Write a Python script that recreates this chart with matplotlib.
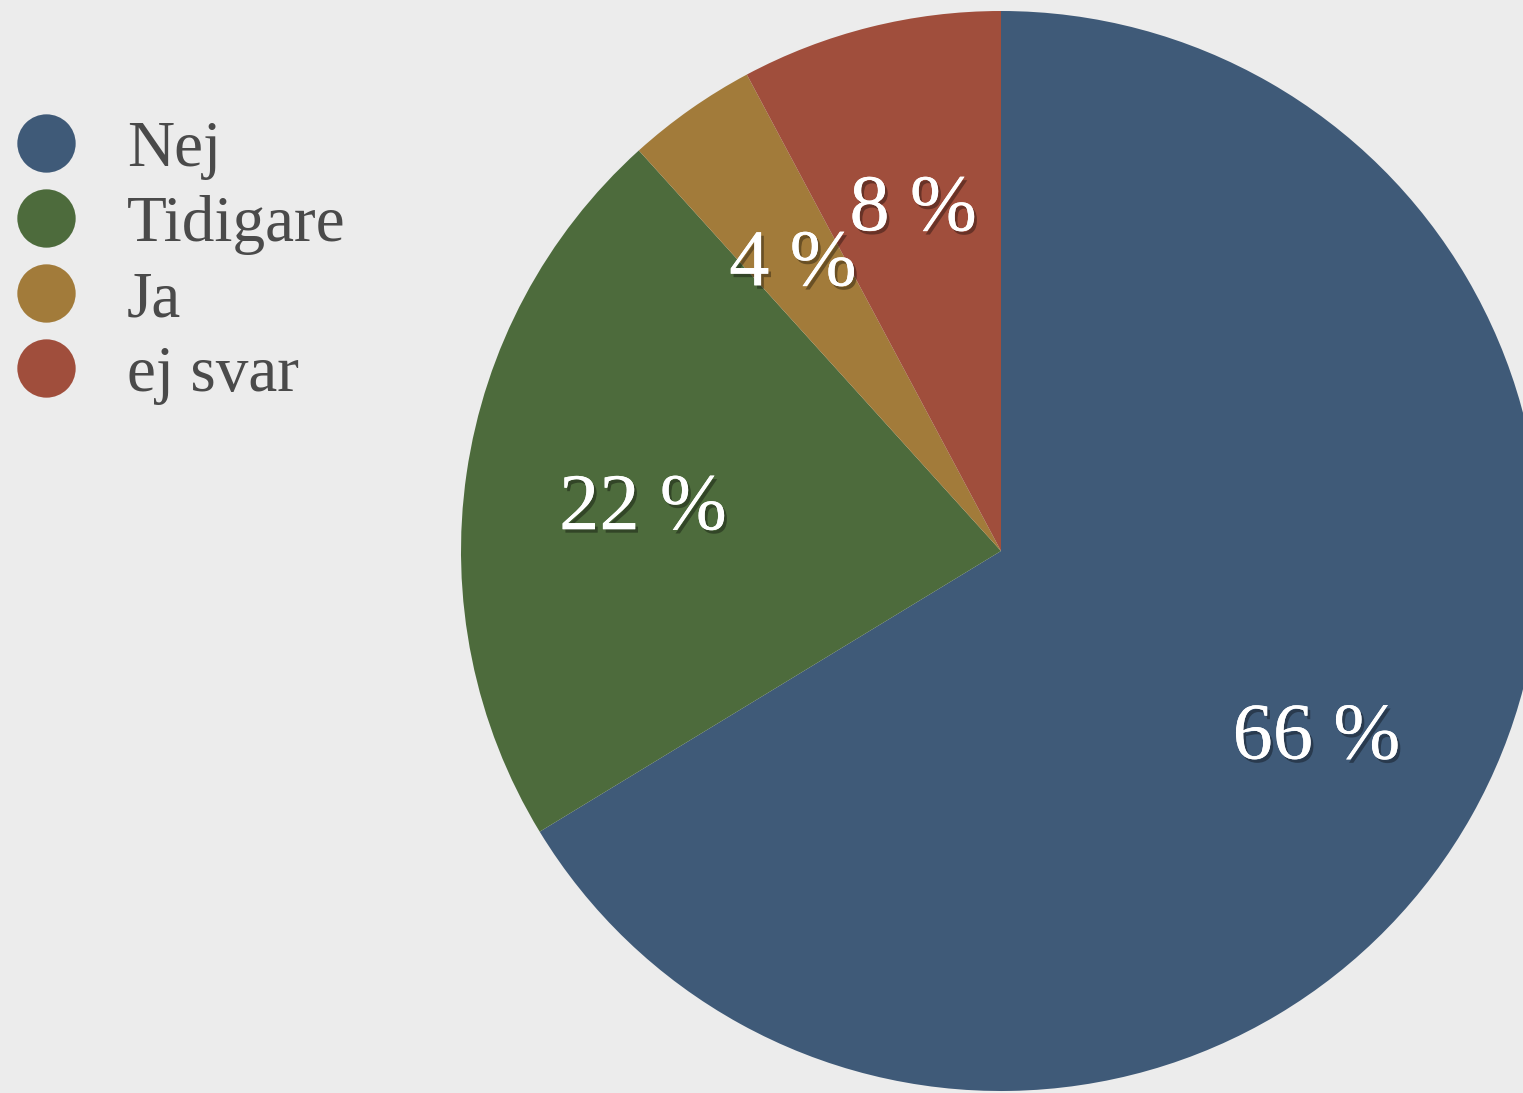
import matplotlib; matplotlib.use('Agg')
import matplotlib.pyplot as plt
import matplotlib.patheffects as pe
from matplotlib.lines import Line2D

labels = ['Nej', 'Tidigare', 'Ja', 'ej svar']
values = [66.3, 22.0, 3.9, 7.8]
colors = ['#3f5a78', '#4d6b3c', '#a27b3a', '#a04e3c']

BG = '#ececec'
W, H, DPI = 1523, 1093, 100
fig = plt.figure(figsize=(W/DPI, H/DPI), dpi=DPI, facecolor=BG)

# pie centred at (1001, 551) px with radius ~540 px; runs off the right edge
cx, cy, r = 1001, 551, 540
ax = fig.add_axes([(cx-r)/W, (H-cy-r)/H, 2*r/W, 2*r/H])
ax.set_facecolor(BG)
wedges, _, autotexts = ax.pie(values, colors=colors, startangle=90, counterclock=False,
                              autopct=lambda p: f'{p:.0f} %', pctdistance=0.67,
                              radius=1, wedgeprops=dict(linewidth=0))
for w in wedges: w.set_clip_on(False)
shadow = [pe.withSimplePatchShadow(offset=(2, -2.5), shadow_rgbFace='black', alpha=0.35), pe.Normal()]
for t in autotexts:
    t.set_color('white'); t.set_fontsize(58); t.set_fontfamily('Liberation Serif')
    t.set_path_effects(shadow)
    x, y = t.get_position(); t.set_position((x, y - 0.02))
ax.set_xlim(-1, 1); ax.set_ylim(-1, 1); ax.set_aspect('equal'); ax.axis('off')

handles = [Line2D([], [], marker='o', linestyle='none', markersize=42, markerfacecolor=c,
                  markeredgewidth=0) for c in colors]
leg = fig.legend(handles, labels, loc='upper left', bbox_to_anchor=(-0.0066, 0.914),
                 frameon=False, prop={'family': 'Liberation Serif', 'size': 47},
                 labelspacing=0.234, handletextpad=0.78, handlelength=0.92, borderaxespad=0)
for t in leg.get_texts(): t.set_color('#4a4a4a')

plt.savefig('out.png', dpi=DPI, facecolor=BG)
